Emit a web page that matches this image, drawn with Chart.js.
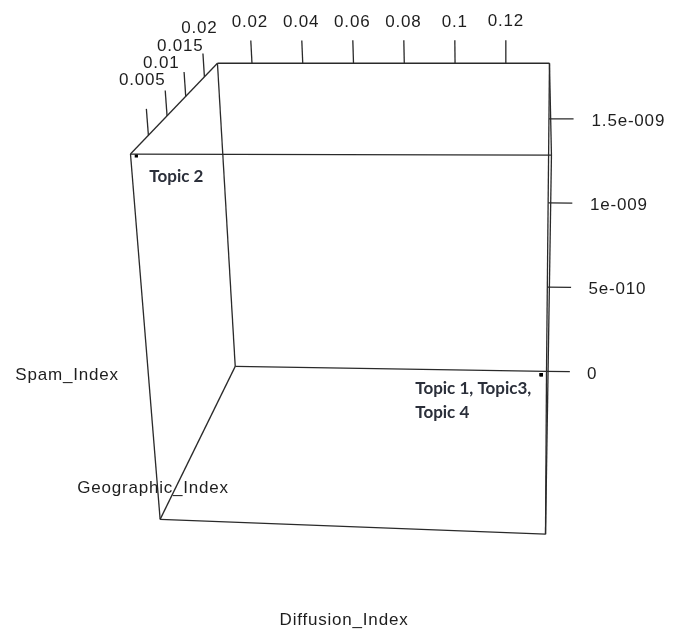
<!DOCTYPE html>
<html>
<head>
<meta charset="utf-8">
<script src="https://cdn.jsdelivr.net/npm/chart.js@4.4.1/dist/chart.umd.min.js"></script>
<style>
  html, body { margin: 0; padding: 0; background: #ffffff; }
  #wrap { width: 677px; height: 630px; }
</style>
</head>
<body>
<div id="wrap"><canvas id="c" width="677" height="630"></canvas></div>
<script>
// ---- data ----
const topics = ['Topic 1', 'Topic 2', 'Topic 3', 'Topic 4'];
const diffusionIndex = [0.135, 0.0078, 0.135, 0.135];
const geographicIndex = [0.0230, 0.0005, 0.0230, 0.0230];
const spamIndex = [0, 1.815e-9, 0, 0];

const diffusionRange = [0.0064, 0.1372];
const geographicRange = [0.0002, 0.0235];
const spamRange = [0, 1.83e-9];

const diffusionTicks = [0.02, 0.04, 0.06, 0.08, 0.1, 0.12];
const diffusionTickLabels = ['0.02', '0.04', '0.06', '0.08', '0.1', '0.12'];
const geographicTicks = [0.005, 0.01, 0.015, 0.02];
const geographicTickLabels = ['0.005', '0.01', '0.015', '0.02'];
const spamTicks = [0, 5e-10, 1e-9, 1.5e-9];
const spamTickLabels = ['0', '5e-010', '1e-009', '1.5e-009'];

const axisTitles = ['Diffusion_Index', 'Geographic_Index', 'Spam_Index'];
// annotation text for each group of coinciding topics (index = topic shown)
const noteTopic = [1, 0];
const noteLines = [['Topic 2'], ['Topic 1, Topic3,', 'Topic 4']];

// ---- 3D view: where the corners of the unit cube land on the drawing plane ----
// key = diffusion(0/1) geographic(0 front / 1 back) spam(0 bottom / 1 top)
const VIEW = {
  '000': [158, 522], '100': [548, 537], '001': [128, 152], '101': [554, 153],
  '010': [234, 367], '110': [549, 372], '011': [216, 60],  '111': [552, 60]
};

function project(u, v, w) {
  let x = 0, y = 0;
  for (let d = 0; d < 2; d++) for (let g = 0; g < 2; g++) for (let s = 0; s < 2; s++) {
    const k = (d ? u : 1 - u) * (g ? v : 1 - v) * (s ? w : 1 - w);
    const c = VIEW['' + d + g + s];
    x += k * c[0]; y += k * c[1];
  }
  return { x, y };
}
const norm = (r) => (val) => (val - r[0]) / (r[1] - r[0]);
const uD = norm(diffusionRange), uG = norm(geographicRange), uS = norm(spamRange);

// ---- box edges ----
const cubeEdges = [
  [[0,0,0],[1,0,0]], [[0,0,1],[1,0,1]], [[0,0,0],[0,0,1]], [[1,0,0],[1,0,1]],
  [[0,1,0],[1,1,0]], [[0,1,1],[1,1,1]], [[0,1,0],[0,1,1]], [[1,1,0],[1,1,1]],
  [[0,0,0],[0,1,0]], [[1,0,0],[1,1,0]], [[0,0,1],[0,1,1]], [[1,0,1],[1,1,1]]
];
const LINE = '#2a2a2a';
const segment = (a, b) => ({
  data: [project(...a), project(...b)],
  showLine: true, borderColor: LINE, borderWidth: 1.3,
  pointRadius: 0, fill: false, clip: false
});

const datasets = cubeEdges.map(([a, b]) => segment(a, b));

// tick marks: diffusion & geographic point upward, spam points to the right
const TICK = 0.075;
diffusionTicks.forEach(t => datasets.push(segment([uD(t), 1, 1], [uD(t), 1, 1 + TICK])));
geographicTicks.forEach(t => datasets.push(segment([0, uG(t), 1], [0, uG(t), 1 + TICK])));
spamTicks.forEach(t => datasets.push(segment([1, 1, uS(t)], [1 + TICK, 1, uS(t)])));

// topic points
datasets.push({
  data: topics.map((_, i) => project(uD(diffusionIndex[i]), uG(geographicIndex[i]), uS(spamIndex[i]))),
  showLine: false, pointStyle: 'rect', pointRadius: 2.3,
  backgroundColor: '#000000', borderWidth: 0, clip: false
});

const whiteBg = {
  id: 'whiteBg',
  beforeDraw(chart) {
    const ctx = chart.ctx;
    ctx.save();
    ctx.fillStyle = '#ffffff';
    ctx.fillRect(0, 0, chart.width, chart.height);
    ctx.restore();
  }
};

const boxText = {
  id: 'boxText',
  afterDatasetsDraw(chart) {
    const ctx = chart.ctx;
    const sx = chart.scales.x, sy = chart.scales.y;
    const px = (p) => [sx.getPixelForValue(p.x), sy.getPixelForValue(p.y)];
    ctx.save();
    ctx.font = '17px "Liberation Sans", Arial, sans-serif';
    ctx.fillStyle = '#1e1e1e';
    if ('letterSpacing' in ctx) ctx.letterSpacing = '0.8px';

    ctx.textAlign = 'center';
    ctx.textBaseline = 'middle';
    diffusionTicks.forEach((t, i) => {
      const [x, y] = px(project(uD(t), 1, 1.135));
      ctx.fillText(diffusionTickLabels[i], x, y);
    });
    geographicTicks.forEach((t, i) => {
      const [x, y] = px(project(0, uG(t), 1.155));
      ctx.fillText(geographicTickLabels[i], x - 2, y);
    });
    ctx.textAlign = 'left';
    spamTicks.forEach((t, i) => {
      const [x, y] = px(project(1.13, 1, uS(t)));
      ctx.fillText(spamTickLabels[i], x, y + 2);
    });

    // axis titles
    ctx.textAlign = 'center';
    ctx.textBaseline = 'alphabetic';
    ctx.fillText(axisTitles[0], 344, 625);
    ctx.fillText(axisTitles[1], 153, 493);
    ctx.fillText(axisTitles[2], 67, 380);

    // topic annotations
    ctx.font = '700 17px Lato, "Open Sans", sans-serif';
    if ('letterSpacing' in ctx) ctx.letterSpacing = '0px';
    ctx.fillStyle = '#2b2f3a';
    ctx.textAlign = 'left';
    ctx.textBaseline = 'middle';
    const offsets = [[13, 21], [-126, 14]];
    noteLines.forEach((lines, n) => {
      const i = noteTopic[n];
      const [x, y] = px(project(uD(diffusionIndex[i]), uG(geographicIndex[i]), uS(spamIndex[i])));
      lines.forEach((line, k) => ctx.fillText(line, x + offsets[n][0], y + offsets[n][1] + k * 24));
    });
    ctx.restore();
  }
};

new Chart(document.getElementById('c'), {
  type: 'scatter',
  data: { datasets },
  options: {
    responsive: false,
    animation: false,
    devicePixelRatio: 1,
    events: [],
    layout: { padding: 0 },
    plugins: { legend: { display: false }, tooltip: { enabled: false } },
    scales: {
      x: { type: 'linear', min: 0, max: 677, display: false },
      y: { type: 'linear', min: 0, max: 630, reverse: true, display: false }
    }
  },
  plugins: [whiteBg, boxText]
});
</script>
</body>
</html>
